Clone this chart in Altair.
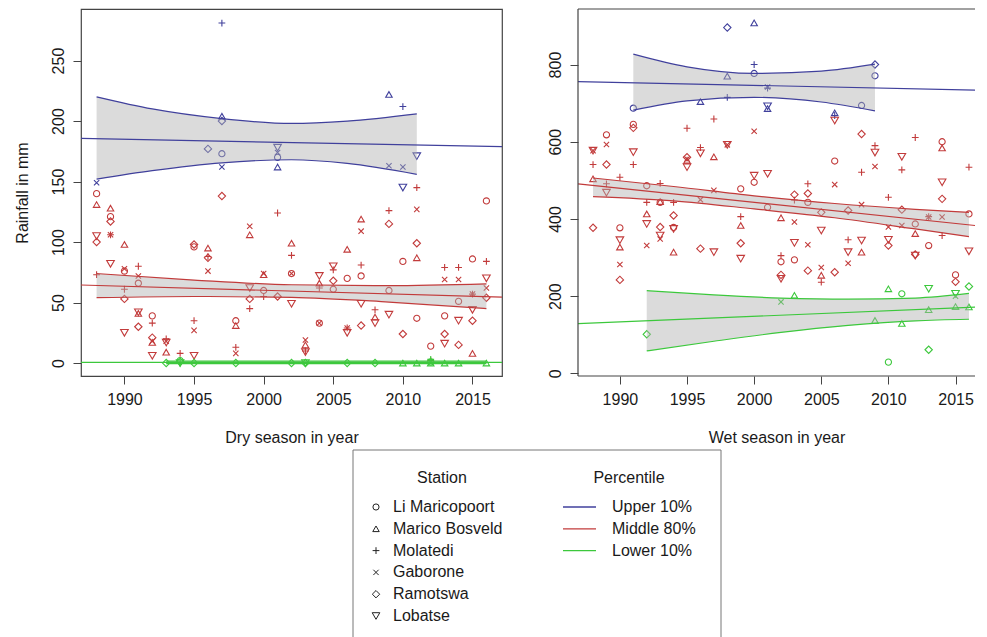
import altair as alt
import pandas as pd

FONT = "Liberation Sans"
TEXT_COLOR = "#1a1a1a"

# ---------------- axes ----------------
dry_year_domain = [1986.88, 2017.12]
wet_year_domain = [1986.88, 2016.45]
year_ticks = [1990, 1995, 2000, 2005, 2010, 2015]
dry_y_domain = [-10.7, 292.6]
dry_y_ticks = [0, 50, 100, 150, 200, 250]
wet_y_domain = [-7, 944]
wet_y_ticks = [0, 200, 400, 600, 800]

# ---------------- categories ----------------
stations = ["Li Maricopoort", "Marico Bosveld", "Molatedi", "Gaborone", "Ramotswa", "Lobatse"]
station_codes = ["C", "T", "P", "X", "D", "V"]
percentiles = ["Upper 10%", "Middle 80%", "Lower 10%"]
pct_colors = ["#40409c", "#c23b3b", "#3cc83c"]
shape_range = ["circle", "triangle-up", "M-1,0L1,0M0,-1L0,1",
               "M-0.75,-0.75L0.75,0.75M-0.75,0.75L0.75,-0.75", "diamond", "triangle-down"]
size_range = [38, 58, 72, 55, 70, 58]

# ---------------- dry season points (year, mm) ----------------
dry_upper = {
    "C": [(1997, 173), (2001, 170)],
    "T": [(1997, 204), (2001, 162), (2009, 222)],
    "P": [(1997, 281), (2010, 212)],
    "X": [(1988, 149), (1997, 162), (2001, 174), (2009, 163), (2010, 162)],
    "D": [(1996, 177), (1997, 200)],
    "V": [(2001, 178), (2010, 145), (2011, 171)],
}
dry_middle = {
    "C": [(1988, 140), (1989, 121), (1990, 76), (1991, 66), (1992, 39), (1995, 96), (1998, 35),
          (2000, 60), (2002, 74), (2004, 33), (2005, 61), (2006, 70), (2007, 72), (2009, 60),
          (2010, 84), (2011, 37), (2012, 14), (2013, 39), (2014, 51), (2015, 86), (2016, 134)],
    "T": [(1988, 131), (1989, 128), (1990, 98), (1991, 41), (1992, 17), (1993, 9), (1996, 95),
          (1998, 31), (1999, 106), (2000, 73), (2002, 99), (2003, 15), (2004, 66), (2006, 94),
          (2007, 119), (2008, 38), (2011, 87), (2015, 8)],
    "P": [(1988, 73), (1989, 106), (1990, 61), (1991, 80), (1992, 33), (1993, 20), (1994, 8),
          (1995, 35), (1996, 88), (1998, 13), (1999, 45), (2000, 55), (2001, 124), (2002, 89),
          (2003, 10), (2004, 62), (2005, 77), (2006, 29), (2007, 81), (2008, 44), (2009, 126),
          (2011, 145), (2012, 2), (2013, 79), (2014, 79), (2015, 57), (2016, 84)],
    "X": [(1989, 106), (1990, 78), (1991, 72), (1992, 18), (1993, 18), (1995, 27), (1996, 76),
          (1998, 8), (1999, 113), (2000, 74), (2002, 74), (2003, 19), (2004, 33), (2006, 29),
          (2007, 109), (2011, 127), (2013, 69), (2014, 69), (2015, 57), (2016, 62)],
    "D": [(1988, 100), (1989, 117), (1990, 53), (1991, 30), (1992, 21), (1995, 98), (1996, 87),
          (1997, 138), (1999, 53), (2001, 55), (2005, 68), (2007, 31), (2009, 115), (2010, 24),
          (2011, 99), (2013, 24), (2014, 15), (2015, 35), (2016, 54)],
    "V": [(1988, 105), (1989, 82), (1990, 25), (1991, 42), (1992, 6), (1993, 17), (1995, 6),
          (1999, 62), (2002, 49), (2003, 9), (2004, 72), (2005, 80), (2006, 25), (2007, 49),
          (2008, 33), (2009, 40), (2013, 16), (2014, 35), (2015, 44), (2016, 70)],
}
dry_lower = {
    "C": [(1994, 2), (2012, 1)],
    "T": [(2010, 0), (2011, 0), (2012, 0), (2013, 0), (2014, 0), (2016, 0)],
    "P": [(1994, 0), (2012, 3)],
    "X": [(2012, 1)],
    "D": [(1993, 0), (1994, 1), (1995, 0), (1998, 0), (2002, 0), (2003, 0), (2006, 0), (2008, 0)],
    "V": [(1994, 0), (2003, 0)],
}

# ---------------- wet season points (year, mm) ----------------
wet_upper = {
    "C": [(1991, 687), (2000, 777), (2008, 694), (2009, 771)],
    "T": [(1996, 704), (1998, 770), (2000, 908), (2001, 686), (2006, 675)],
    "P": [(1998, 715), (2000, 800), (2001, 739), (2006, 668)],
    "X": [(2001, 742)],
    "D": [(1998, 896), (2009, 800)],
    "V": [(2001, 692)],
}
wet_middle = {
    "C": [(1989, 618), (1990, 377), (1991, 645), (1992, 486), (1993, 443), (1994, 378), (1999, 478),
          (2000, 495), (2001, 430), (2002, 289), (2003, 294), (2004, 443), (2006, 550), (2012, 387),
          (2013, 331), (2014, 600), (2015, 255), (2016, 413)],
    "T": [(1988, 504), (1990, 327), (1992, 413), (1993, 445), (1994, 314), (1995, 552), (1997, 561),
          (1999, 383), (2002, 403), (2005, 254), (2008, 314), (2012, 362), (2014, 584)],
    "P": [(1988, 541), (1989, 491), (1990, 508), (1991, 541), (1992, 443), (1993, 492), (1994, 443),
          (1995, 635), (1996, 585), (1997, 659), (1999, 406), (2002, 305), (2003, 449), (2004, 491),
          (2005, 236), (2007, 346), (2008, 521), (2009, 590), (2010, 456), (2011, 527), (2012, 611),
          (2013, 406), (2014, 357), (2016, 534)],
    "X": [(1988, 577), (1989, 593), (1990, 282), (1992, 331), (1993, 348), (1995, 555), (1996, 450),
          (1997, 474), (1998, 592), (2000, 627), (2003, 392), (2004, 333), (2005, 274), (2006, 489),
          (2007, 285), (2008, 437), (2009, 536), (2010, 379), (2011, 383), (2013, 405), (2014, 405)],
    "D": [(1988, 377), (1989, 541), (1990, 242), (1991, 636), (1993, 379), (1994, 409), (1995, 560),
          (1996, 323), (1999, 337), (2002, 255), (2003, 463), (2004, 466), (2004, 266), (2005, 417),
          (2006, 262), (2007, 422), (2008, 620), (2010, 331), (2011, 424), (2012, 308), (2014, 452),
          (2015, 237)],
    "V": [(1988, 577), (1989, 468), (1990, 345), (1991, 573), (1992, 387), (1993, 357), (1994, 374),
          (1995, 534), (1996, 570), (1997, 314), (1998, 592), (1999, 297), (2000, 512), (2001, 517),
          (2002, 245), (2003, 338), (2005, 370), (2006, 655), (2007, 314), (2008, 344), (2009, 572),
          (2010, 346), (2011, 561), (2012, 305), (2014, 495), (2016, 316)],
}
wet_lower = {
    "C": [(2010, 29), (2011, 206)],
    "T": [(2003, 202), (2009, 137), (2010, 219), (2011, 129), (2013, 165), (2015, 173), (2016, 172)],
    "X": [(2002, 185), (2015, 200)],
    "D": [(1992, 101), (2013, 61), (2016, 225)],
    "V": [(2013, 219), (2015, 206)],
}

# ---------------- fitted trend lines (value at left / right plot edge) ----------------
dry_trend = {"Upper 10%": [185.7, 178.8], "Middle 80%": [64.5, 54.5], "Lower 10%": [0.6, 0.6]}
wet_trend = {"Upper 10%": [756, 734], "Middle 80%": [491, 383], "Lower 10%": [128.6, 171.5]}

# ---------------- confidence bands: years, upper edge, lower edge ----------------
dry_bands = {
    "Upper 10%": ([1988, 1992, 1997, 2002, 2006, 2011],
                  [220, 210, 202, 198, 200, 206], [152, 159, 165.5, 168, 165, 156]),
    "Middle 80%": ([1988, 1995, 2002, 2009, 2016],
                   [74, 68.6, 64.7, 64, 65.5], [54, 55, 54.3, 50.4, 45]),
    "Lower 10%": ([1993, 2016], [1.6, 1.6], [-0.4, -0.4]),
}
wet_bands = {
    "Upper 10%": ([1991, 1995, 2000, 2005, 2009],
                  [827, 794, 777, 783, 801], [682, 706, 715, 703, 680]),
    "Middle 80%": ([1988, 1994, 2000, 2006, 2012, 2016],
                   [506, 484, 460, 440, 425, 417], [458, 447, 426, 403, 374, 354]),
    "Lower 10%": ([1992, 1997, 2002, 2007, 2012, 2016],
                  [214, 203, 195, 192, 195, 207], [58, 83, 106, 124, 136, 140]),
}


def points_frame(groups):
    rows = []
    for pct, d in zip(percentiles, groups):
        for code, pairs in d.items():
            st = stations[station_codes.index(code)]
            for yr, v in pairs:
                rows.append({"year": yr, "value": v, "station": st, "pct": pct})
    return pd.DataFrame(rows)


def band_frames(bands):
    area_rows, edge_rows = [], []
    for pct, (yrs, hi, lo) in bands.items():
        for yr, h, l in zip(yrs, hi, lo):
            area_rows.append({"pct": pct, "year": yr, "upper": h, "lower": l})
            edge_rows.append({"pct": pct, "edge": "hi", "year": yr, "value": h})
            edge_rows.append({"pct": pct, "edge": "lo", "year": yr, "value": l})
    return pd.DataFrame(area_rows), pd.DataFrame(edge_rows)


def trend_frame(trend, xdom):
    rows = []
    for pct, (a, b) in trend.items():
        rows.append({"pct": pct, "year": xdom[0], "value": a})
        rows.append({"pct": pct, "year": xdom[1], "value": b})
    return pd.DataFrame(rows)


color_enc = alt.Color("pct:N", scale=alt.Scale(domain=percentiles, range=pct_colors), legend=None)
shape_enc = alt.Shape("station:N", scale=alt.Scale(domain=stations, range=shape_range), legend=None)
size_enc = alt.Size("station:N", scale=alt.Scale(domain=stations, range=size_range), legend=None)
BOX = "#444444"


def panel(pts, bands, trend, xdom, ydom, yticks, xtitle, ytitle, width, open_right):
    area_df, edge_df = band_frames(bands)
    xs = alt.Scale(domain=xdom, nice=False, zero=False)
    ys = alt.Scale(domain=ydom, nice=False, zero=False)
    xax = alt.Axis(values=year_ticks, format="d", title=xtitle, labelFlush=False,
                   labelOverlap=False, labelPadding=7, titlePadding=22)
    yax = alt.Axis(values=yticks, title=ytitle, labelAngle=270, labelAlign="center",
                   labelBaseline="bottom", labelPadding=7, titlePadding=20, labelOverlap=False)
    x = alt.X("year:Q", scale=xs, axis=xax)
    y = alt.Y("value:Q", scale=ys, axis=yax)

    pts_layer = alt.Chart(pts).mark_point(filled=False, strokeWidth=1.1, opacity=1).encode(
        x=x, y=y, color=color_enc, shape=shape_enc, size=size_enc)
    band_layer = alt.Chart(area_df).mark_area(color="#b0b0b0", opacity=0.45,
                                              interpolate="monotone").encode(
        x=x, y=alt.Y("upper:Q", scale=ys, axis=yax), y2="lower:Q", detail="pct:N")
    edge_layer = alt.Chart(edge_df).mark_line(strokeWidth=1.2, interpolate="monotone").encode(
        x=x, y=y, color=color_enc, detail="edge:N")
    trend_layer = alt.Chart(trend_frame(trend, xdom)).mark_line(strokeWidth=1.2).encode(
        x=x, y=y, color=color_enc)
    layers = [pts_layer, band_layer, edge_layer, trend_layer]
    if open_right:
        # plot box drawn on three sides only: the right side runs past the picture edge
        one = pd.DataFrame({"k": [0]})
        top = alt.Chart(one).mark_rule(color=BOX, strokeWidth=1.2).encode(
            x=alt.value(0), x2=alt.value(width), y=alt.value(0))
        bottom = alt.Chart(one).mark_rule(color=BOX, strokeWidth=1.2).encode(
            x=alt.value(0), x2=alt.value(width), y=alt.value(367))
        left = alt.Chart(one).mark_rule(color=BOX, strokeWidth=1.2).encode(
            x=alt.value(0), y=alt.value(0), y2=alt.value(367))
        layers += [top, bottom, left]
        view = alt.ViewBackground(strokeOpacity=0)
    else:
        view = alt.ViewBackground(stroke=BOX, strokeWidth=1.2)
    return alt.layer(*layers).properties(width=width, height=367, view=view)


dry = panel(points_frame([dry_upper, dry_middle, dry_lower]), dry_bands, dry_trend,
            dry_year_domain, dry_y_domain, dry_y_ticks, "Dry season in year", "Rainfall in mm",
            421, False)
wet = panel(points_frame([wet_upper, wet_middle, wet_lower]), wet_bands, wet_trend,
            wet_year_domain, wet_y_domain, wet_y_ticks, "Wet season in year", None,
            397, True)

# ---------------- legend panel ----------------
station_legend = pd.DataFrame({"station": stations, "idx": list(range(len(stations)))})
pct_legend = pd.DataFrame({"pct": percentiles, "idx": list(range(len(percentiles)))})
one = pd.DataFrame({"k": [0]})
ly = alt.Y("idx:Q", scale=alt.Scale(domain=[0, 5], range=[57, 166]), axis=None)

box = alt.Chart(one).mark_rect(fillOpacity=0, stroke="#777777", strokeWidth=1).encode(
    x=alt.value(272), x2=alt.value(640), y=alt.value(0), y2=alt.value(200))
st_title = alt.Chart(one).mark_text(text="Station", fontSize=16, align="center",
                                    baseline="middle", color=TEXT_COLOR).encode(
    x=alt.value(361), y=alt.value(28))
pc_title = alt.Chart(one).mark_text(text="Percentile", fontSize=16, align="center",
                                    baseline="middle", color=TEXT_COLOR).encode(
    x=alt.value(548), y=alt.value(28))
st_sym = alt.Chart(station_legend).mark_point(filled=False, strokeWidth=1, color="#222222",
                                              opacity=1).encode(
    x=alt.value(295), y=ly, shape=shape_enc, size=size_enc)
st_lab = alt.Chart(station_legend).mark_text(fontSize=16, align="left", baseline="middle",
                                             color=TEXT_COLOR).encode(
    x=alt.value(312), y=ly, text="station:N")
pc_line = alt.Chart(pct_legend).mark_rule(strokeWidth=1.3).encode(
    x=alt.value(482), x2=alt.value(515), y=ly, color=color_enc)
pc_lab = alt.Chart(pct_legend).mark_text(fontSize=16, align="left", baseline="middle",
                                         color=TEXT_COLOR).encode(
    x=alt.value(531), y=ly, text="pct:N")

legend = alt.layer(box, st_title, pc_title, st_sym, st_lab, pc_line, pc_lab).properties(
    width=642, height=200, view=alt.ViewBackground(strokeOpacity=0))

chart = alt.vconcat(
    alt.hconcat(dry, wet, spacing=42),
    legend,
    spacing=3,
).properties(
    padding={"left": 5, "top": 0, "right": 0, "bottom": 0}
).configure(
    font=FONT
).configure_axis(
    labelFont=FONT, titleFont=FONT, labelFontSize=16, titleFontSize=16,
    titleFontWeight="normal", labelColor=TEXT_COLOR, titleColor=TEXT_COLOR,
    tickColor="#444444", tickSize=8, tickWidth=1, domain=False, grid=False,
)

chart.save("out.html", embed_options={"renderer": "svg", "actions": False})
